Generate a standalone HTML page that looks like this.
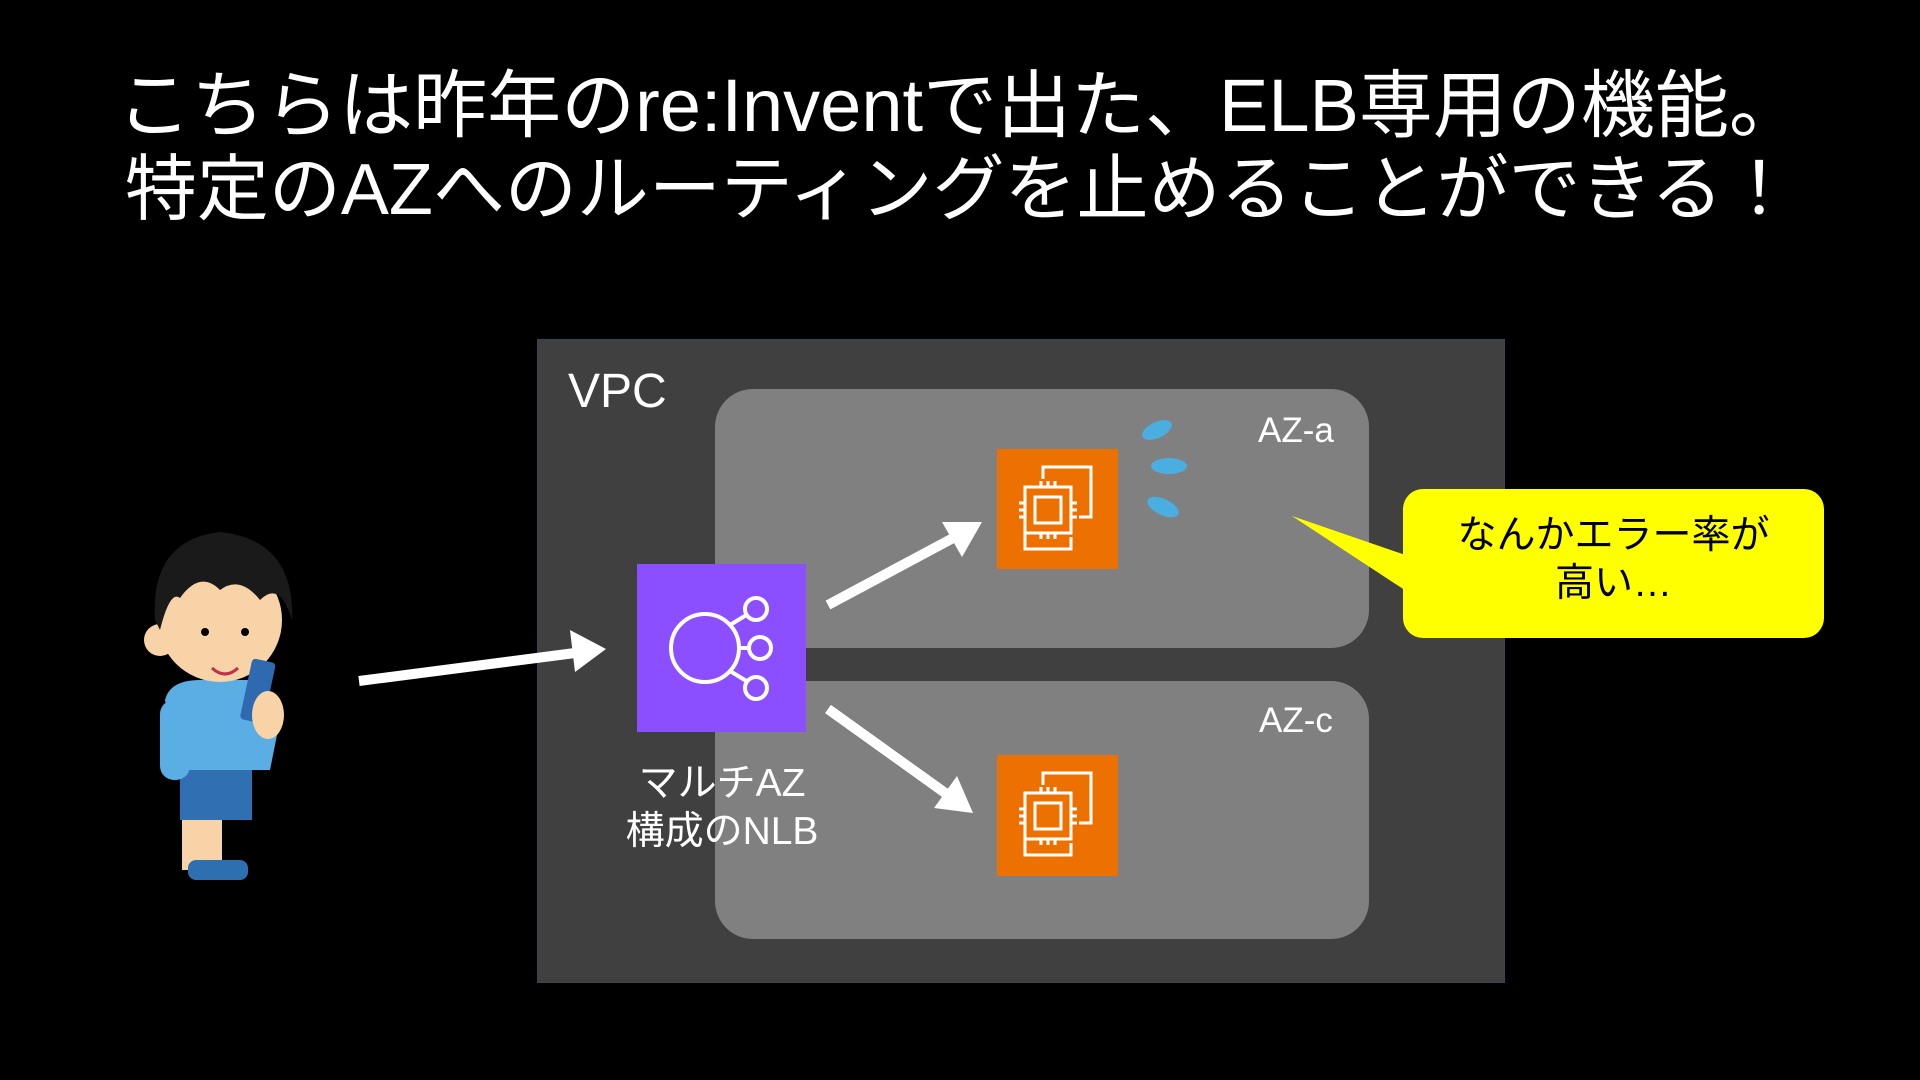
<!DOCTYPE html>
<html><head><meta charset="utf-8"><style>
html,body{margin:0;padding:0;background:#000;}
body{width:1920px;height:1080px;position:relative;overflow:hidden;font-family:"Liberation Sans","Noto Sans CJK JP",sans-serif;color:#fff;}
.t{position:absolute;left:0;width:1920px;text-align:center;line-height:80px;white-space:nowrap;}
.abs{position:absolute;}
</style></head><body>
<div class="t" style="top:66px;font-size:74px;">こちらは昨年のre:Inventで出た、ELB専用の機能。</div>
<div class="t" style="top:150px;font-size:72px;">特定のAZへのルーティングを止めることができる！</div>

<div class="abs" style="left:537px;top:339px;width:966px;height:642px;background:#404040;border:1px solid #2e4a5a;"></div>
<div class="abs" style="left:568px;top:364px;font-size:48px;">VPC</div>
<div class="abs" style="left:715px;top:389px;width:654px;height:259px;background:#808080;border-radius:38px;"></div>
<div class="abs" style="left:715px;top:681px;width:654px;height:258px;background:#808080;border-radius:38px;"></div>
<div class="abs" style="left:1258px;top:411px;font-size:35px;">AZ-a</div>
<div class="abs" style="left:1259px;top:701px;font-size:35px;">AZ-c</div>

<div class="abs" style="left:637px;top:564px;width:169px;height:168px;background:#8c4fff;"></div>
<div class="abs" style="left:596px;top:760px;width:252px;text-align:center;font-size:39px;line-height:48px;">マルチAZ<br>構成のNLB</div>

<div class="abs" style="left:997px;top:449px;width:121px;height:120px;background:#ed7100;"></div>
<div class="abs" style="left:997px;top:755px;width:121px;height:121px;background:#ed7100;"></div>

<div class="abs" style="left:1403px;top:489px;width:421px;height:149px;background:#ffff00;border-radius:20px;"></div>
<div class="abs" style="left:1403px;top:512px;width:421px;text-align:center;font-size:39px;line-height:48px;color:#000;">なんかエラー率が<br>高い…</div>

<svg class="abs" style="left:0;top:0" width="1920" height="1080">
<polygon points="1292,516 1420,560 1420,600" fill="#ffff00"/>
<g fill="none" stroke="#fff" stroke-width="4">
<circle cx="705" cy="648" r="34"/>
<circle cx="756" cy="609" r="11"/><circle cx="760" cy="648" r="11"/><circle cx="756" cy="688" r="11"/>
<line x1="730" y1="625" x2="748" y2="614"/><line x1="739" y1="648" x2="749" y2="648"/><line x1="730" y1="671" x2="748" y2="682"/>
</g>
<g fill="none" stroke="#fff" stroke-width="3">
<g transform="translate(997,449)">
<rect x="28" y="38" width="46" height="46"/><path d="M46 30 V18 H94 V68 H82"/><path d="M28 84 V100 H74 V88" /><rect x="38" y="48" width="26" height="26"/>
<path d="M44 38v-6M51 38v-6M58 38v-6M44 84v6M51 84v6M58 84v6M28 54h-6M28 61h-6M28 68h-6M74 54h6M74 61h6M74 68h6"/>
</g>
<g transform="translate(997,755)">
<rect x="28" y="38" width="46" height="46"/><path d="M46 30 V18 H94 V68 H82"/><path d="M28 84 V100 H74 V88" /><rect x="38" y="48" width="26" height="26"/>
<path d="M44 38v-6M51 38v-6M58 38v-6M44 84v6M51 84v6M58 84v6M28 54h-6M28 61h-6M28 68h-6M74 54h6M74 61h6M74 68h6"/>
</g>
</g>
<g stroke="#fff" stroke-width="10" fill="#fff">
<line x1="359" y1="681" x2="575" y2="653"/>
<line x1="828" y1="605" x2="955" y2="537"/>
<line x1="828" y1="709" x2="948" y2="795"/>
</g>
<polygon points="606,649 570,630 575,672" fill="#fff"/>
<polygon points="982,522 942,522 962,557" fill="#fff"/>
<polygon points="973,813 957,776 934,808" fill="#fff"/>
<g fill="#4aaee0">
<ellipse cx="1157" cy="430" rx="16" ry="8" transform="rotate(-25 1157 430)"/>
<ellipse cx="1169" cy="466" rx="18" ry="8"/>
<ellipse cx="1163" cy="507" rx="17" ry="8" transform="rotate(25 1163 507)"/>
</g>
<g>
<rect x="182" y="820" width="40" height="50" fill="#f9d3a8"/>
<rect x="188" y="860" width="60" height="20" rx="8" fill="#2e6fb0"/>
<rect x="180" y="760" width="72" height="60" fill="#2f6fb2"/>
<path d="M165 700 Q170 680 200 680 L250 680 Q280 690 280 720 L270 770 L178 770 Z" fill="#5aaee3"/>
<rect x="160" y="700" width="30" height="80" rx="14" fill="#5aaee3"/>
<circle cx="220" cy="620" r="62" fill="#f9d3a8"/>
<circle cx="160" cy="640" r="16" fill="#f9d3a8"/>
<path d="M155 620 Q150 540 220 532 Q295 540 292 620 Q280 580 260 600 Q240 575 220 590 Q200 570 180 598 Q170 590 160 630 Z" fill="#1a1a1a"/>
<circle cx="205" cy="632" r="4" fill="#000"/><circle cx="245" cy="632" r="4" fill="#000"/>
<path d="M212 668 Q225 680 238 668" stroke="#c0304a" stroke-width="3" fill="none"/>
<rect x="246" y="660" width="24" height="62" rx="4" fill="#2f6ab0" transform="rotate(12 258 690)"/>
<ellipse cx="268" cy="715" rx="16" ry="24" fill="#f9d3a8"/>
</g>
</svg>
</body></html>
